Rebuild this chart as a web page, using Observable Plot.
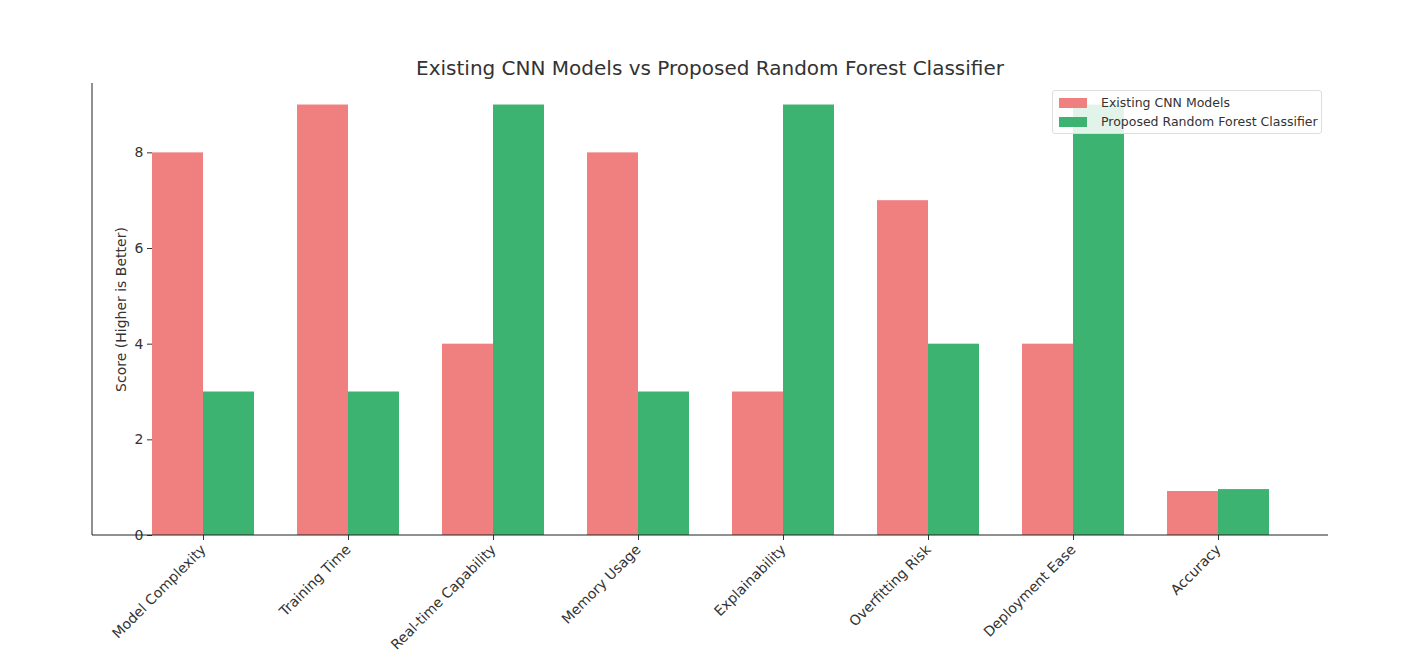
<!DOCTYPE html>
<html>
<head>
<meta charset="utf-8">
<script src="https://cdn.jsdelivr.net/npm/d3@7"></script>
<script src="https://cdn.jsdelivr.net/npm/@observablehq/plot@0.6"></script>
<style>
  body { margin: 0; background: #fff; font-family: "DejaVu Sans", sans-serif; }
  #wrap { position: relative; width: 1408px; height: 659px; }
  #title { position: absolute; top: 56px; left: 92px; width: 1236px; text-align: center; font-size: 20px; color: #333; }
  #legend { position: absolute; left: 1052px; top: 90px; width: 268px; height: 42px; border: 1px solid #ddd; border-radius: 3px; background: rgba(255,255,255,0.85); font-size: 12.5px; color: #333; }
  #legend div { position: absolute; left: 6px; display: flex; align-items: center; }
  #legend span.sw { display: inline-block; width: 28px; height: 10px; margin-right: 14px; }
</style>
</head>
<body>
<div id="wrap">
  <div id="chart"></div>
  <div id="title">Existing CNN Models vs Proposed Random Forest Classifier</div>
  <div id="legend">
    <div style="top:4px"><span class="sw" style="background:#F08080"></span>Existing CNN Models</div>
    <div style="top:23px"><span class="sw" style="background:#3CB371"></span>Proposed Random Forest Classifier</div>
  </div>
</div>
<script>
const categories = ["Model Complexity", "Training Time", "Real-time Capability", "Memory Usage",
  "Explainability", "Overfitting Risk", "Deployment Ease", "Accuracy"];
const seriesNames = ["Existing CNN Models", "Proposed Random Forest Classifier"];
const cnnScores = [8, 9, 4, 8, 3, 7, 4, 0.92];
const rfScores = [3, 3, 9, 3, 9, 4, 9, 0.96];
const yTicks = [0, 2, 4, 6, 8];

const data = categories.flatMap((c, i) => [
  {category: c, series: seriesNames[0], score: cnnScores[i]},
  {category: c, series: seriesNames[1], score: rfScores[i]}
]);

const chart = Plot.plot({
  width: 1408,
  height: 659,
  marginLeft: 92,
  marginRight: 80,
  marginTop: 83,
  marginBottom: 124,
  style: {fontSize: "14px", fontFamily: "DejaVu Sans, sans-serif", color: "#333"},
  fx: {domain: categories, paddingInner: 0.3, paddingOuter: 0.383, label: null},
  x: {domain: seriesNames, padding: 0, axis: null},
  y: {domain: [0, 9.45]},
  color: {domain: seriesNames, range: ["#F08080", "#3CB371"]},
  marks: [
    Plot.ruleX(categories, {fx: d => d, stroke: "#bbb", strokeDasharray: "3,2", strokeWidth: 0.8}),
    Plot.barY(data, {fx: "category", x: "series", y: "score", fill: "series"}),
    Plot.axisY({ticks: yTicks, tickSize: 5, label: "Score (Higher is Better)", labelAnchor: "center", labelArrow: "none", labelOffset: 36}),
    Plot.axisFx({anchor: "bottom", tickRotate: -45, label: null, tickSize: 5, textAnchor: "end"})
  ]
});
d3.select('#chart').append(() => chart);
// spines
d3.select(chart).append("line").attr("x1", 92).attr("x2", 92).attr("y1", 83).attr("y2", 535).attr("stroke", "#222");
d3.select(chart).append("line").attr("x1", 92).attr("x2", 1328).attr("y1", 535).attr("y2", 535).attr("stroke", "#222");
</script>
</body>
</html>
